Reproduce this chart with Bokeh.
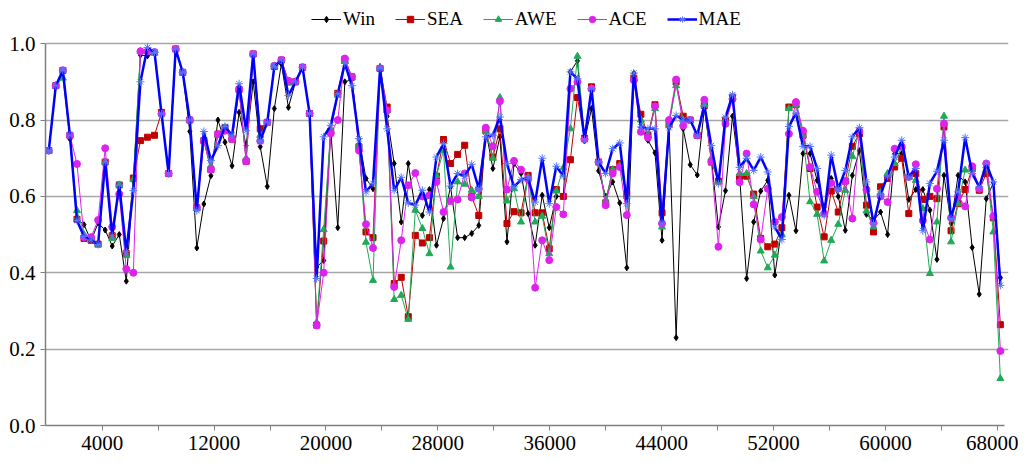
import numpy as np
from bokeh.plotting import figure
from bokeh.models import Range1d, FixedTicker, Legend, LegendItem, PrintfTickFormatter
from bokeh.embed import file_html
from bokeh.resources import INLINE

# sample positions (x values)
x_values = np.arange(136) * 504 + 180

win = [0.72, 0.89, 0.925, 0.75, 0.54, 0.526, 0.484, 0.53, 0.512, 0.47,
       0.50, 0.378, 0.64, 0.97, 0.968, 0.975, 0.816, 0.66, 0.986, 0.925,
       0.77, 0.465, 0.58, 0.654, 0.80, 0.742, 0.68, 0.82, 0.733, 0.90,
       0.73, 0.626, 0.83, 0.947, 0.833, 0.90, 0.94, 0.817, 0.415, 0.432,
       0.775, 0.518, 0.90, 0.906, 0.751, 0.647, 0.62, 0.94, 0.81, 0.686,
       0.533, 0.686, 0.565, 0.55, 0.618, 0.472, 0.542, 0.625, 0.492, 0.492,
       0.503, 0.524, 0.773, 0.673, 0.756, 0.481, 0.686, 0.66, 0.555, 0.472,
       0.603, 0.518, 0.60, 0.60, 0.926, 0.955, 0.745, 0.83, 0.667, 0.60,
       0.638, 0.583, 0.413, 0.922, 0.78, 0.747, 0.714, 0.485, 0.78, 0.23,
       0.777, 0.683, 0.656, 0.83, 0.70, 0.52, 0.615, 0.81, 0.654, 0.385,
       0.533, 0.614, 0.642, 0.394, 0.518, 0.603, 0.51, 0.712, 0.712, 0.642,
       0.572, 0.647, 0.60, 0.511, 0.655, 0.72, 0.553, 0.537, 0.559, 0.50,
       0.712, 0.712, 0.592, 0.618, 0.618, 0.564, 0.435, 0.655, 0.53, 0.655,
       0.638, 0.466, 0.344, 0.594, 0.635, 0.387]

sea = [0.72, 0.89, 0.93, 0.76, 0.54, 0.49, 0.485, 0.475, 0.69, 0.497,
       0.63, 0.45, 0.648, 0.746, 0.755, 0.76, 0.82, 0.66, 0.986, 0.925,
       0.80, 0.57, 0.746, 0.67, 0.763, 0.78, 0.75, 0.88, 0.692, 0.973,
       0.777, 0.794, 0.94, 0.957, 0.90, 0.90, 0.938, 0.817, 0.263, 0.483,
       0.77, 0.87, 0.958, 0.913, 0.73, 0.507, 0.492, 0.935, 0.834, 0.372,
       0.388, 0.285, 0.498, 0.478, 0.492, 0.653, 0.749, 0.686, 0.71, 0.734,
       0.599, 0.55, 0.773, 0.703, 0.777, 0.529, 0.56, 0.557, 0.655, 0.557,
       0.557, 0.463, 0.618, 0.60, 0.696, 0.859, 0.752, 0.887, 0.69, 0.583,
       0.67, 0.686, 0.607, 0.91, 0.815, 0.76, 0.84, 0.557, 0.79, 0.90,
       0.81, 0.80, 0.76, 0.838, 0.69, 0.64, 0.80, 0.86, 0.65, 0.653,
       0.606, 0.49, 0.468, 0.475, 0.518, 0.834, 0.84, 0.76, 0.673, 0.572,
       0.494, 0.614, 0.559, 0.64, 0.731, 0.764, 0.577, 0.507, 0.625, 0.647,
       0.677, 0.70, 0.555, 0.66, 0.592, 0.60, 0.594, 0.782, 0.51, 0.581,
       0.618, 0.673, 0.616, 0.66, 0.544, 0.264]

awe = [0.72, 0.89, 0.91, 0.76, 0.563, 0.50, 0.49, 0.475, 0.69, 0.49,
       0.63, 0.445, 0.645, 0.98, 0.985, 0.975, 0.816, 0.66, 0.986, 0.925,
       0.80, 0.57, 0.75, 0.68, 0.76, 0.78, 0.75, 0.88, 0.70, 0.973,
       0.76, 0.794, 0.94, 0.957, 0.897, 0.90, 0.938, 0.817, 0.27, 0.513,
       0.775, 0.865, 0.955, 0.91, 0.735, 0.48, 0.38, 0.935, 0.825, 0.33,
       0.341, 0.278, 0.564, 0.516, 0.45, 0.655, 0.72, 0.415, 0.638, 0.632,
       0.616, 0.60, 0.77, 0.70, 0.859, 0.588, 0.62, 0.533, 0.65, 0.533,
       0.548, 0.45, 0.614, 0.675, 0.777, 0.967, 0.75, 0.882, 0.69, 0.59,
       0.67, 0.68, 0.60, 0.91, 0.80, 0.76, 0.83, 0.52, 0.79, 0.89,
       0.80, 0.80, 0.76, 0.84, 0.70, 0.64, 0.80, 0.86, 0.66, 0.66,
       0.60, 0.457, 0.413, 0.446, 0.50, 0.83, 0.84, 0.76, 0.586, 0.553,
       0.431, 0.485, 0.527, 0.616, 0.705, 0.77, 0.562, 0.52, 0.61, 0.66,
       0.686, 0.73, 0.65, 0.642, 0.568, 0.398, 0.533, 0.81, 0.481, 0.581,
       0.669, 0.67, 0.625, 0.68, 0.507, 0.123]

ace = [0.72, 0.89, 0.93, 0.76, 0.685, 0.493, 0.493, 0.538, 0.726, 0.52,
       0.606, 0.41, 0.40, 0.98, 0.98, 0.978, 0.816, 0.66, 0.986, 0.925,
       0.80, 0.57, 0.746, 0.67, 0.763, 0.772, 0.75, 0.88, 0.692, 0.973,
       0.745, 0.794, 0.942, 0.957, 0.903, 0.90, 0.938, 0.817, 0.262, 0.40,
       0.765, 0.80, 0.961, 0.913, 0.72, 0.527, 0.465, 0.935, 0.825, 0.363,
       0.485, 0.629, 0.661, 0.60, 0.603, 0.638, 0.559, 0.588, 0.592, 0.66,
       0.597, 0.62, 0.78, 0.731, 0.849, 0.618, 0.693, 0.67, 0.645, 0.361,
       0.485, 0.433, 0.572, 0.553, 0.882, 0.90, 0.75, 0.882, 0.69, 0.577,
       0.66, 0.677, 0.551, 0.904, 0.769, 0.754, 0.836, 0.529, 0.80, 0.906,
       0.785, 0.80, 0.76, 0.853, 0.69, 0.468, 0.79, 0.855, 0.637, 0.712,
       0.579, 0.487, 0.62, 0.533, 0.546, 0.764, 0.847, 0.772, 0.677, 0.612,
       0.555, 0.635, 0.62, 0.64, 0.542, 0.771, 0.618, 0.531, 0.60, 0.585,
       0.725, 0.73, 0.651, 0.684, 0.537, 0.487, 0.62, 0.791, 0.544, 0.60,
       0.574, 0.679, 0.62, 0.686, 0.548, 0.195]

mae = [0.72, 0.89, 0.93, 0.76, 0.537, 0.495, 0.486, 0.474, 0.69, 0.497,
       0.63, 0.455, 0.615, 0.90, 0.99, 0.977, 0.816, 0.66, 0.986, 0.925,
       0.80, 0.563, 0.77, 0.694, 0.733, 0.783, 0.76, 0.895, 0.772, 0.973,
       0.746, 0.794, 0.94, 0.957, 0.864, 0.90, 0.938, 0.817, 0.385, 0.756,
       0.786, 0.869, 0.948, 0.89, 0.751, 0.612, 0.634, 0.935, 0.777, 0.616,
       0.65, 0.583, 0.577, 0.616, 0.559, 0.703, 0.738, 0.627, 0.66, 0.653,
       0.684, 0.62, 0.756, 0.76, 0.808, 0.686, 0.625, 0.644, 0.647, 0.585,
       0.70, 0.581, 0.679, 0.653, 0.926, 0.908, 0.749, 0.882, 0.69, 0.66,
       0.725, 0.74, 0.581, 0.923, 0.782, 0.777, 0.777, 0.53, 0.78, 0.812,
       0.80, 0.80, 0.76, 0.838, 0.733, 0.633, 0.807, 0.866, 0.676, 0.70,
       0.668, 0.703, 0.664, 0.52, 0.487, 0.783, 0.818, 0.731, 0.731, 0.673,
       0.55, 0.708, 0.62, 0.668, 0.756, 0.78, 0.638, 0.529, 0.606, 0.653,
       0.703, 0.747, 0.651, 0.673, 0.51, 0.634, 0.666, 0.747, 0.542, 0.612,
       0.754, 0.66, 0.625, 0.686, 0.638, 0.367]

series_names = ["Win", "SEA", "AWE", "ACE", "MAE"]
y_ticks = [0.0, 0.2, 0.4, 0.6, 0.8, 1.0]
x_ticks = list(range(4000, 68001, 4000))
x_labels = {t: (str(t) if (t - 4000) % 8000 == 0 else "") for t in x_ticks}

FONT = "Liberation Serif"

# frame extends above 1.0 to give room for the legend; axis line bounded to [0, 1]
p = figure(width=1018, height=458, output_backend="svg", toolbar_location=None,
           x_range=Range1d(-54, 68800), y_range=Range1d(0, 1.113),
           min_border_left=45, min_border_right=10, min_border_top=0,
           min_border_bottom=33)
p.outline_line_color = None
p.background_fill_color = "white"
p.border_fill_color = "white"

p.xgrid.visible = False
p.ygrid.grid_line_color = "#a6a6a6"
p.ygrid.grid_line_width = 1.5

p.yaxis.ticker = FixedTicker(ticks=y_ticks)
p.yaxis.formatter = PrintfTickFormatter(format="%.1f")
p.yaxis.bounds = (0, 1.0)
p.xaxis.ticker = FixedTicker(ticks=x_ticks)
p.xaxis.major_label_overrides = x_labels
p.xaxis.bounds = (-54, 68500)

for ax in (p.xaxis, p.yaxis):
    ax.axis_line_color = "#808080"
    ax.axis_line_width = 1.5
    ax.major_tick_line_color = "#808080"
    ax.major_tick_in = 0
    ax.major_tick_out = 5
    ax.minor_tick_line_color = None
    ax.major_label_text_font = FONT
    ax.major_label_text_font_size = "21px"
    ax.major_label_text_color = "black"
p.yaxis.major_label_standoff = 5
p.xaxis.major_label_standoff = 5

styles = [
    ("Win", win, "#000000", "diamond", 6, 1.0, "#000000", "#000000", 1.0),
    ("SEA", sea, "#C00000", "square", 6, 1.0, "#C00000", "#C00000", 1.0),
    ("AWE", awe, "#1FAA55", "triangle", 7, 1.0, "#1FAA55", "#1FAA55", 1.0),
    ("ACE", ace, "#DD22EE", "circle", 7, 1.0, "#DD22EE", "#DD22EE", 1.0),
    ("MAE", mae, "#0000FF", "asterisk", 8, 2.5, "#5577FF", "#5577FF", 1.0),
]

items = []
for name, ys, color, marker, size, lw, mfill, mline, mlw in styles:
    lr = p.line(x_values, ys, line_color=color, line_width=lw)
    sr = p.scatter(x_values, ys, marker=marker, size=size, fill_color=mfill,
                   line_color=mline, line_width=mlw)
    items.append(LegendItem(label=name, renderers=[lr, sr]))

legend = Legend(items=items, orientation="horizontal", location=(266, 395))
legend.label_text_font = FONT
legend.label_text_font_size = "19px"
legend.label_text_color = "black"
legend.label_standoff = 2
legend.glyph_width = 30
legend.glyph_height = 16
legend.spacing = 20
legend.padding = 2
legend.margin = 0
legend.border_line_color = None
legend.background_fill_alpha = 0
p.add_layout(legend, "center")

open("out.html", "w").write(file_html(p, INLINE))
